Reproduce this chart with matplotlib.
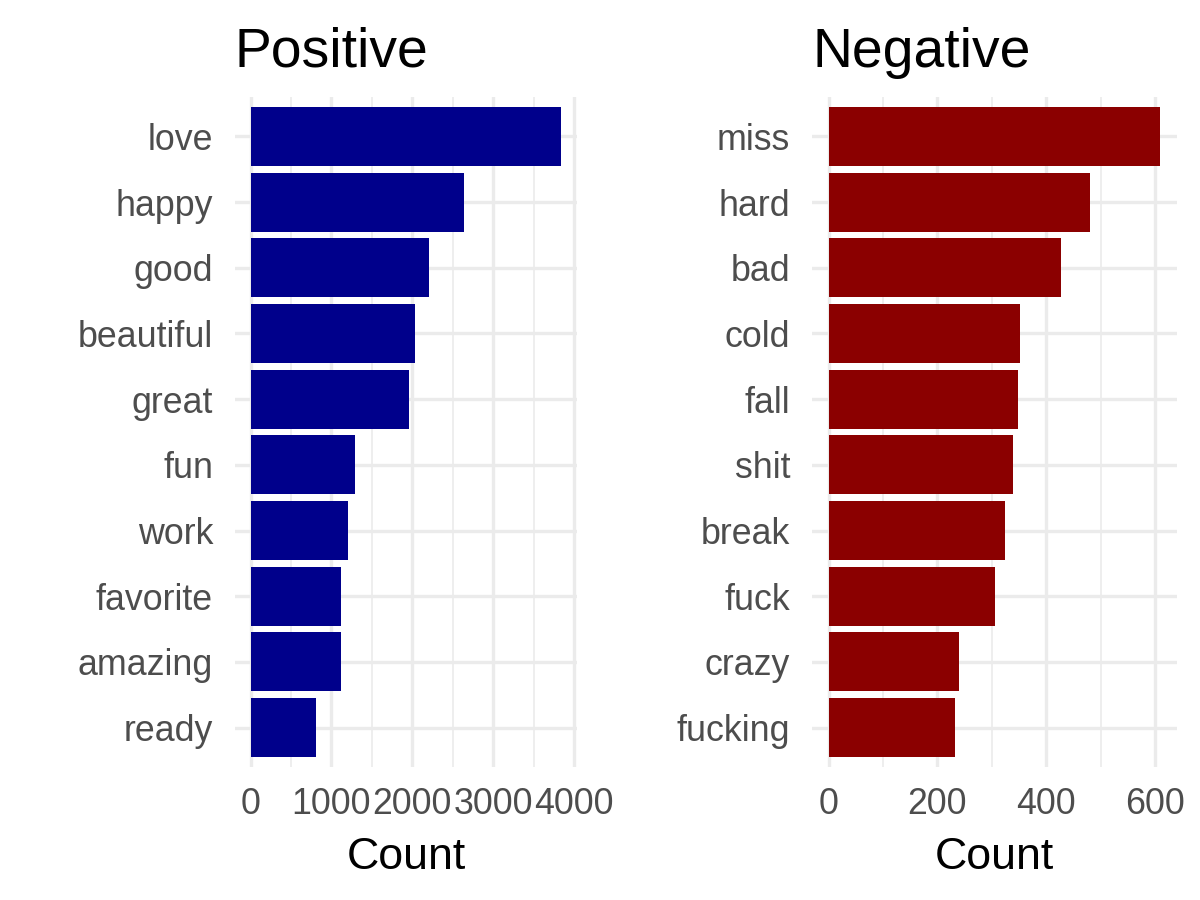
import numpy as np
import matplotlib
matplotlib.use("Agg")
import matplotlib.pyplot as plt
from matplotlib.ticker import MultipleLocator

plt.rcParams.update({
    "font.family": ["Liberation Sans", "DejaVu Sans"],
})

# ── Data ───────────────────────────────────────────────────────────────────
pos_words = ["love", "happy", "good", "beautiful", "great",
             "fun", "work", "favorite", "amazing", "ready"]
pos_counts = [3840, 2634, 2203, 2031, 1957, 1292, 1206, 1120, 1118, 812]

neg_words = ["miss", "hard", "bad", "cold", "fall",
             "shit", "break", "fuck", "crazy", "fucking"]
neg_counts = [610, 480, 427, 352, 348, 339, 325, 305, 240, 233]

GRID = "#EBEBEB"
TICK_COL = "#4D4D4D"

fig = plt.figure(figsize=(8, 6), dpi=150)
ax_pos = fig.add_axes([0.1958, 0.1478, 0.2850, 0.7444])
ax_neg = fig.add_axes([0.6767, 0.1478, 0.3042, 0.7444])


def panel(ax, words, counts, color, title, major):
    y = np.arange(len(words))[::-1]
    ax.barh(y, counts, height=0.9, color=color, zorder=3)
    top = max(counts)
    ax.set_xlim(-0.05 * top, 1.05 * top)
    ax.set_ylim(-0.6, len(words) - 0.4)
    ax.set_yticks(y)
    ax.set_yticklabels(words)
    ax.xaxis.set_major_locator(MultipleLocator(major))
    ax.xaxis.set_minor_locator(MultipleLocator(major / 2))
    ax.grid(which="major", color=GRID, linewidth=1.6, zorder=0)
    ax.grid(which="minor", axis="x", color=GRID, linewidth=0.8, zorder=0)
    ax.set_xticks([t for t in ax.get_xticks() if 0 <= t <= top * 1.05])
    ax.tick_params(which="both", length=0)
    ax.tick_params(axis="y", pad=10.5, labelsize=17.2, labelcolor=TICK_COL)
    ax.tick_params(axis="x", pad=9.5, labelsize=17.2, labelcolor=TICK_COL)
    for s in ax.spines.values():
        s.set_visible(False)
    ax.set_xlabel("Count", fontsize=21.5, labelpad=7.5)
    ax.set_title(title, loc="left", fontsize=26.5, pad=14.5)


panel(ax_pos, pos_words, pos_counts, "#00008B", "Positive", 1000)
panel(ax_neg, neg_words, neg_counts, "#8B0000", "Negative", 200)

fig.savefig("out.png", dpi=150, facecolor="white")
plt.close(fig)
